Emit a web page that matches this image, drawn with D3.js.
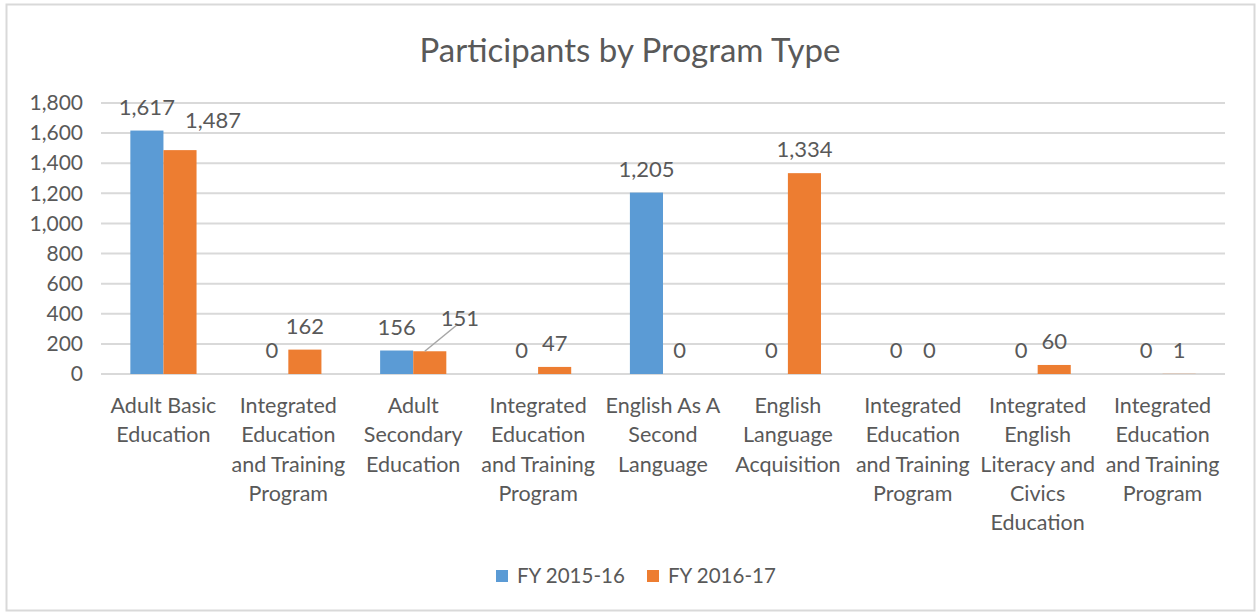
<!DOCTYPE html>
<html>
<head>
<meta charset="utf-8">
<script src="https://cdn.jsdelivr.net/npm/d3@7"></script>
<style>
  body { margin: 0; background: #fff; }
  svg { font-family: Lato, "Open Sans", sans-serif; }
</style>
</head>
<body>
<svg id="chart" width="1259" height="613"></svg>
<script>
const categories = [
  ["Adult Basic", "Education"],
  ["Integrated", "Education", "and Training", "Program"],
  ["Adult", "Secondary", "Education"],
  ["Integrated", "Education", "and Training", "Program"],
  ["English As A", "Second", "Language"],
  ["English", "Language", "Acquisition"],
  ["Integrated", "Education", "and Training", "Program"],
  ["Integrated", "English", "Literacy and", "Civics", "Education"],
  ["Integrated", "Education", "and Training", "Program"]
];
const seriesNames = ["FY 2015-16", "FY 2016-17"];
const fy1516 = [1617, 0, 156, 0, 1205, 0, 0, 0, 0];
const fy1617 = [1487, 162, 151, 47, 0, 1334, 0, 60, 1];
const yTicks = [0, 200, 400, 600, 800, 1000, 1200, 1400, 1600, 1800];

const colors = ["#5B9BD5", "#ED7D31"];
const textColor = "#595959";
const gridColor = "#D9D9D9";

// labels Excel nudged out of the way (series index, category index)
const labelNudge = { "1-0": { dx: 33, dy: -6 }, "1-2": { dx: 30, dy: -9, leader: true } };

const svg = d3.select("#chart");

// chart border
svg.append("rect")
  .attr("x", 6.5).attr("y", 4.5)
  .attr("width", 1248).attr("height", 606)
  .attr("fill", "#fff")
  .attr("stroke", gridColor)
  .attr("stroke-width", 2);

const x = d3.scaleBand()
  .domain(d3.range(categories.length))
  .range([101, 1225])
  .paddingInner(0.47)
  .paddingOuter(0.235);

const x1 = d3.scaleBand()
  .domain([0, 1])
  .range([0, x.bandwidth()]);

const y = d3.scaleLinear()
  .domain([0, 1800])
  .range([374, 103]);

// gridlines
svg.append("g")
  .selectAll("line")
  .data(yTicks)
  .join("line")
  .attr("x1", 101).attr("x2", 1225)
  .attr("y1", d => y(d)).attr("y2", d => y(d))
  .attr("stroke", gridColor)
  .attr("stroke-width", 2);

// y axis labels
const yAxis = svg.append("g")
  .attr("transform", "translate(101,0)")
  .call(d3.axisLeft(y).tickValues(yTicks).tickFormat(d3.format(",")).tickSize(0).tickPadding(18));
yAxis.select(".domain").remove();
yAxis.selectAll("text")
  .style("font-family", "Lato, 'Open Sans', sans-serif")
  .style("font-size", "21px")
  .attr("fill", textColor);

const series = [fy1516, fy1617];
const bars = [];
series.forEach((vals, s) => {
  vals.forEach((v, i) => bars.push({ s, i, v }));
});

svg.append("g")
  .selectAll("rect")
  .data(bars)
  .join("rect")
  .attr("x", d => x(d.i) + x1(d.s))
  .attr("y", d => y(d.v))
  .attr("width", x1.bandwidth())
  .attr("height", d => y(0) - y(d.v))
  .attr("fill", d => colors[d.s]);

// data labels
const labels = svg.append("g");
bars.forEach(d => {
  const nudge = labelNudge[d.s + "-" + d.i] || { dx: 0, dy: 0 };
  const cx = x(d.i) + x1(d.s) + x1.bandwidth() / 2;
  const top = y(d.v);
  const lx = cx + nudge.dx;
  const ly = top - 16 + nudge.dy;
  if (nudge.leader) {
    labels.append("line")
      .attr("x1", cx - 5).attr("y1", top)
      .attr("x2", lx - 2).attr("y2", ly - 2)
      .attr("stroke", "#A6A6A6")
      .attr("stroke-width", 1.5);
  }
  labels.append("text")
    .attr("x", lx)
    .attr("y", ly)
    .attr("text-anchor", "middle")
    .attr("fill", textColor)
    .style("font-size", "22px")
    .text(d3.format(",")(d.v));
});

// category labels
svg.append("g")
  .selectAll("text")
  .data(categories)
  .join("text")
  .attr("text-anchor", "middle")
  .attr("fill", textColor)
  .style("font-size", "21.5px")
  .attr("x", (d, i) => x(i) + x.bandwidth() / 2)
  .attr("y", 413)
  .each(function (lines) {
    const t = d3.select(this);
    const cx = t.attr("x");
    lines.forEach((line, k) => {
      t.append("tspan").attr("x", cx).attr("y", 413 + k * 29.3).text(line);
    });
  });

// title
svg.append("text")
  .attr("x", 630)
  .attr("y", 62)
  .attr("text-anchor", "middle")
  .attr("fill", textColor)
  .style("font-size", "33px")
  .text("Participants by Program Type");

// legend
const legendX = [496, 647];
const legend = svg.append("g")
  .selectAll("g")
  .data(seriesNames)
  .join("g")
  .attr("transform", (d, i) => `translate(${legendX[i]},570)`);

legend.append("rect")
  .attr("width", 12).attr("height", 12)
  .attr("fill", (d, i) => colors[i]);

legend.append("text")
  .attr("x", 21)
  .attr("y", 13)
  .attr("fill", textColor)
  .style("font-size", "20.5px")
  .text(d => d);
</script>
</body>
</html>
